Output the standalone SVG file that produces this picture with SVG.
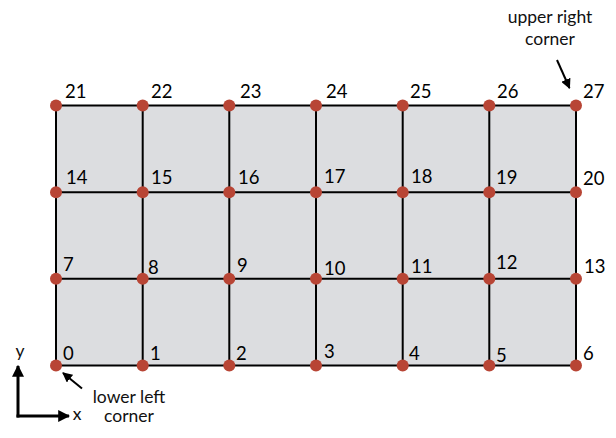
<svg xmlns="http://www.w3.org/2000/svg" width="616" height="438" viewBox="0 0 616 438">
<style>
.grid{stroke:#000;stroke-width:2;fill:none}
.node{fill:#b84535}
.lbl{font-family:Lato,"Liberation Sans",sans-serif;font-size:18.5px;fill:#000}
.note{font-family:Lato,"Liberation Sans",sans-serif;font-size:17.5px;fill:#111;text-anchor:middle}
.arr{stroke:#000;stroke-width:2;fill:none}
.ax{stroke:#000;stroke-width:3;fill:none}
</style>
<defs>
<marker id="ah" viewBox="0 0 10 10" refX="9" refY="5" markerWidth="5" markerHeight="5" orient="auto" markerUnits="strokeWidth"><path d="M0,0L10,5L0,10z" fill="#000"/></marker>
<marker id="ah2" viewBox="0 0 10 10" refX="9" refY="5" markerWidth="4" markerHeight="4" orient="auto" markerUnits="strokeWidth"><path d="M0,0L10,5L0,10z" fill="#000"/></marker>
</defs>
<rect x="56" y="105.5" width="520" height="260" fill="#dcdde0"/>
<g id="connectors" class="grid">
<path d="M56,105.5H576M56,192.2H576M56,278.8H576M56,365.5H576"/>
<path d="M56,105.5V365.5M142.7,105.5V365.5M229.3,105.5V365.5M316,105.5V365.5M402.7,105.5V365.5M489.3,105.5V365.5M576,105.5V365.5"/>
</g>
<g id="n0"><circle class="node" cx="56" cy="365.5" r="6"/><text class="lbl" x="63" y="360">0</text></g>
<g id="n1"><circle class="node" cx="142.7" cy="365.5" r="6"/><text class="lbl" x="150" y="360">1</text></g>
<g id="n2"><circle class="node" cx="229.3" cy="365.5" r="6"/><text class="lbl" x="236" y="360">2</text></g>
<g id="n3"><circle class="node" cx="316" cy="365.5" r="6"/><text class="lbl" x="324" y="358">3</text></g>
<g id="n4"><circle class="node" cx="402.7" cy="365.5" r="6"/><text class="lbl" x="409" y="360">4</text></g>
<g id="n5"><circle class="node" cx="489.3" cy="365.5" r="6"/><text class="lbl" x="496" y="362">5</text></g>
<g id="n6"><circle class="node" cx="576" cy="365.5" r="6"/><text class="lbl" x="583" y="360">6</text></g>
<g id="n7"><circle class="node" cx="56" cy="278.8" r="6"/><text class="lbl" x="63" y="271">7</text></g>
<g id="n8"><circle class="node" cx="142.7" cy="278.8" r="6"/><text class="lbl" x="148" y="274">8</text></g>
<g id="n9"><circle class="node" cx="229.3" cy="278.8" r="6"/><text class="lbl" x="237" y="272">9</text></g>
<g id="n10"><circle class="node" cx="316" cy="278.8" r="6"/><text class="lbl" x="324" y="275">10</text></g>
<g id="n11"><circle class="node" cx="402.7" cy="278.8" r="6"/><text class="lbl" x="411" y="273">11</text></g>
<g id="n12"><circle class="node" cx="489.3" cy="278.8" r="6"/><text class="lbl" x="496" y="269">12</text></g>
<g id="n13"><circle class="node" cx="576" cy="278.8" r="6"/><text class="lbl" x="584" y="273">13</text></g>
<g id="n14"><circle class="node" cx="56" cy="192.2" r="6"/><text class="lbl" x="66" y="184">14</text></g>
<g id="n15"><circle class="node" cx="142.7" cy="192.2" r="6"/><text class="lbl" x="151" y="184">15</text></g>
<g id="n16"><circle class="node" cx="229.3" cy="192.2" r="6"/><text class="lbl" x="238" y="184">16</text></g>
<g id="n17"><circle class="node" cx="316" cy="192.2" r="6"/><text class="lbl" x="324" y="183">17</text></g>
<g id="n18"><circle class="node" cx="402.7" cy="192.2" r="6"/><text class="lbl" x="411" y="183">18</text></g>
<g id="n19"><circle class="node" cx="489.3" cy="192.2" r="6"/><text class="lbl" x="496" y="184">19</text></g>
<g id="n20"><circle class="node" cx="576" cy="192.2" r="6"/><text class="lbl" x="583" y="185">20</text></g>
<g id="n21"><circle class="node" cx="56" cy="105.5" r="6"/><text class="lbl" x="65" y="97.5">21</text></g>
<g id="n22"><circle class="node" cx="142.7" cy="105.5" r="6"/><text class="lbl" x="151" y="97.5">22</text></g>
<g id="n23"><circle class="node" cx="229.3" cy="105.5" r="6"/><text class="lbl" x="240" y="97.5">23</text></g>
<g id="n24"><circle class="node" cx="316" cy="105.5" r="6"/><text class="lbl" x="326" y="97.5">24</text></g>
<g id="n25"><circle class="node" cx="402.7" cy="105.5" r="6"/><text class="lbl" x="410" y="97.5">25</text></g>
<g id="n26"><circle class="node" cx="489.3" cy="105.5" r="6"/><text class="lbl" x="497" y="97.5">26</text></g>
<g id="n27"><circle class="node" cx="576" cy="105.5" r="6"/><text class="lbl" x="583" y="97.5">27</text></g>
<g id="annotations">
<text class="note" x="550" y="23">upper right</text>
<text class="note" x="550" y="45">corner</text>
<line class="arr" x1="557" y1="60" x2="569.5" y2="88" marker-end="url(#ah)"/>
<text class="note" x="129" y="403">lower left</text>
<text class="note" x="129" y="422">corner</text>
<line class="arr" x1="82" y1="388.5" x2="63" y2="373" marker-end="url(#ah)"/>
<line class="ax" x1="18" y1="417.5" x2="18" y2="366" marker-end="url(#ah2)"/>
<line class="ax" x1="16.5" y1="416" x2="69" y2="416" marker-end="url(#ah2)"/>
<text class="note" x="20" y="357">y</text>
<text class="note" x="77" y="420">x</text>
</g>
</svg>
